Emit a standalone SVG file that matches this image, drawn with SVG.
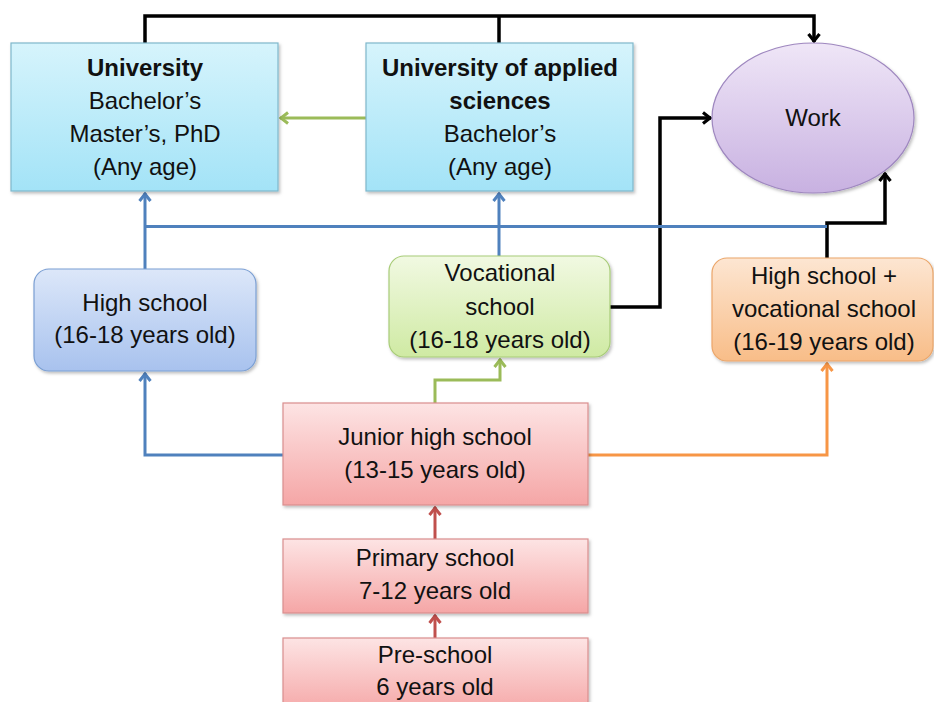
<svg xmlns="http://www.w3.org/2000/svg" width="934" height="702" viewBox="0 0 934 702">
<defs>
<linearGradient id="gCyan" x1="0" y1="0" x2="0" y2="1"><stop offset="0" stop-color="#d6f4fc"/><stop offset="1" stop-color="#a3e3f7"/></linearGradient>
<linearGradient id="gPurple" x1="0" y1="0" x2="0" y2="1"><stop offset="0" stop-color="#efe6f7"/><stop offset="1" stop-color="#c8b1e1"/></linearGradient>
<linearGradient id="gBlue" x1="0" y1="0" x2="0" y2="1"><stop offset="0" stop-color="#dce7f9"/><stop offset="1" stop-color="#a8c2ee"/></linearGradient>
<linearGradient id="gGreen" x1="0" y1="0" x2="0" y2="1"><stop offset="0" stop-color="#f1f9e2"/><stop offset="1" stop-color="#cfeaa3"/></linearGradient>
<linearGradient id="gOrange" x1="0" y1="0" x2="0" y2="1"><stop offset="0" stop-color="#fde6d2"/><stop offset="1" stop-color="#f8bd88"/></linearGradient>
<linearGradient id="gRed" x1="0" y1="0" x2="0" y2="1"><stop offset="0" stop-color="#fde4e4"/><stop offset="1" stop-color="#f5a6a6"/></linearGradient>
<filter id="sh" x="-10%" y="-10%" width="120%" height="130%"><feDropShadow dx="1.5" dy="2" stdDeviation="1.5" flood-color="#000" flood-opacity="0.25"/></filter>
<marker id="aK" viewBox="0 0 14 14" markerWidth="14" markerHeight="14" markerUnits="userSpaceOnUse" refX="12" refY="7" orient="auto"><path d="M4,1.5 L11,7 L4,12.5" fill="none" stroke="#000" stroke-width="3.2"/></marker>
<marker id="aB" viewBox="0 0 14 14" markerWidth="14" markerHeight="14" markerUnits="userSpaceOnUse" refX="12" refY="7" orient="auto"><path d="M4,1.5 L11,7 L4,12.5" fill="none" stroke="#4f81bd" stroke-width="3"/></marker>
<marker id="aG" viewBox="0 0 14 14" markerWidth="14" markerHeight="14" markerUnits="userSpaceOnUse" refX="12" refY="7" orient="auto"><path d="M4,1.5 L11,7 L4,12.5" fill="none" stroke="#9bbb59" stroke-width="3"/></marker>
<marker id="aO" viewBox="0 0 14 14" markerWidth="14" markerHeight="14" markerUnits="userSpaceOnUse" refX="12" refY="7" orient="auto"><path d="M4,1.5 L11,7 L4,12.5" fill="none" stroke="#f79646" stroke-width="3"/></marker>
<marker id="aR" viewBox="0 0 14 14" markerWidth="14" markerHeight="14" markerUnits="userSpaceOnUse" refX="12" refY="7" orient="auto"><path d="M4,1.5 L11,7 L4,12.5" fill="none" stroke="#c0504d" stroke-width="3"/></marker>
</defs>
<style>
text{font-family:"Liberation Sans",Arial,sans-serif;font-size:24px;fill:#111;text-anchor:middle}
.b{font-weight:bold}
.c{fill:none;stroke-width:3;stroke-linejoin:miter}
.k{stroke:#000;stroke-width:3.5}
.bl{stroke:#4f81bd}
.gr{stroke:#9bbb59}
.or{stroke:#f79646}
.rd{stroke:#c0504d}
</style>
<rect width="934" height="702" fill="#fff"/>
<g id="connectors">
<path class="c k" d="M145,43 V16 H814 V42" marker-end="url(#aK)"/>
<path class="c k" d="M499,43 V16"/>
<path class="c k" d="M610,307 H660 V118 H711" marker-end="url(#aK)"/>
<path class="c k" d="M827,258 V223 H885 V173" marker-end="url(#aK)"/>
<path class="c gr" d="M366,118 H280" marker-end="url(#aG)"/>
<path class="c gr" d="M435,403 V380 H500 V359" marker-end="url(#aG)"/>
<path class="c bl" d="M145,269 V193" marker-end="url(#aB)"/>
<path class="c bl" d="M145,226.5 H827" stroke-width="2.5"/>
<path class="c bl" d="M499,257 V193" marker-end="url(#aB)"/>
<path class="c bl" d="M283,455 H145 V373" marker-end="url(#aB)"/>
<path class="c or" d="M588,455 H827 V363" marker-end="url(#aO)"/>
<path class="c rd" d="M435,539 V507" marker-end="url(#aR)"/>
<path class="c rd" d="M435,638 V615" marker-end="url(#aR)"/>
</g>
<g id="university">
<rect x="11" y="43" width="267" height="148" fill="url(#gCyan)" stroke="#7fb7cb" stroke-width="1.2" filter="url(#sh)"/>
<text x="145" y="76" class="b">University</text>
<text x="145" y="109">Bachelor’s</text>
<text x="145" y="142">Master’s, PhD</text>
<text x="145" y="175">(Any age)</text>
</g>
<g id="uas">
<rect x="366" y="43" width="267" height="148" fill="url(#gCyan)" stroke="#7fb7cb" stroke-width="1.2" filter="url(#sh)"/>
<text x="500" y="76" class="b">University of applied</text>
<text x="500" y="109" class="b">sciences</text>
<text x="500" y="142">Bachelor’s</text>
<text x="500" y="175">(Any age)</text>
</g>
<g id="work">
<ellipse cx="813" cy="118" rx="101" ry="75" fill="url(#gPurple)" stroke="#9e87bf" stroke-width="1.2" filter="url(#sh)"/>
<text x="813" y="126">Work</text>
</g>
<g id="highschool">
<rect x="34" y="269" width="222" height="102" rx="15" fill="url(#gBlue)" stroke="#7b9fd3" stroke-width="1.2" filter="url(#sh)"/>
<text x="145" y="311">High school</text>
<text x="145" y="343">(16-18 years old)</text>
</g>
<g id="vocational">
<rect x="389" y="256" width="221" height="101" rx="15" fill="url(#gGreen)" stroke="#a8cc78" stroke-width="1.2" filter="url(#sh)"/>
<text x="500" y="281">Vocational</text>
<text x="500" y="315">school</text>
<text x="500" y="348">(16-18 years old)</text>
</g>
<g id="hsvocational">
<rect x="712" y="258" width="221" height="103" rx="15" fill="url(#gOrange)" stroke="#eba66a" stroke-width="1.2" filter="url(#sh)"/>
<text x="824" y="284">High school +</text>
<text x="824" y="317">vocational school</text>
<text x="824" y="350">(16-19 years old)</text>
</g>
<g id="juniorhigh">
<rect x="283" y="403" width="305" height="102" fill="url(#gRed)" stroke="#d98e8e" stroke-width="1.2" filter="url(#sh)"/>
<text x="435" y="445">Junior high school</text>
<text x="435" y="478">(13-15 years old)</text>
</g>
<g id="primary">
<rect x="283" y="539" width="305" height="74" fill="url(#gRed)" stroke="#d98e8e" stroke-width="1.2" filter="url(#sh)"/>
<text x="435" y="566">Primary school</text>
<text x="435" y="599">7-12 years old</text>
</g>
<g id="preschool">
<rect x="283" y="638" width="305" height="76" fill="url(#gRed)" stroke="#d98e8e" stroke-width="1.2" filter="url(#sh)"/>
<text x="435" y="663">Pre-school</text>
<text x="435" y="695">6 years old</text>
</g>
</svg>
